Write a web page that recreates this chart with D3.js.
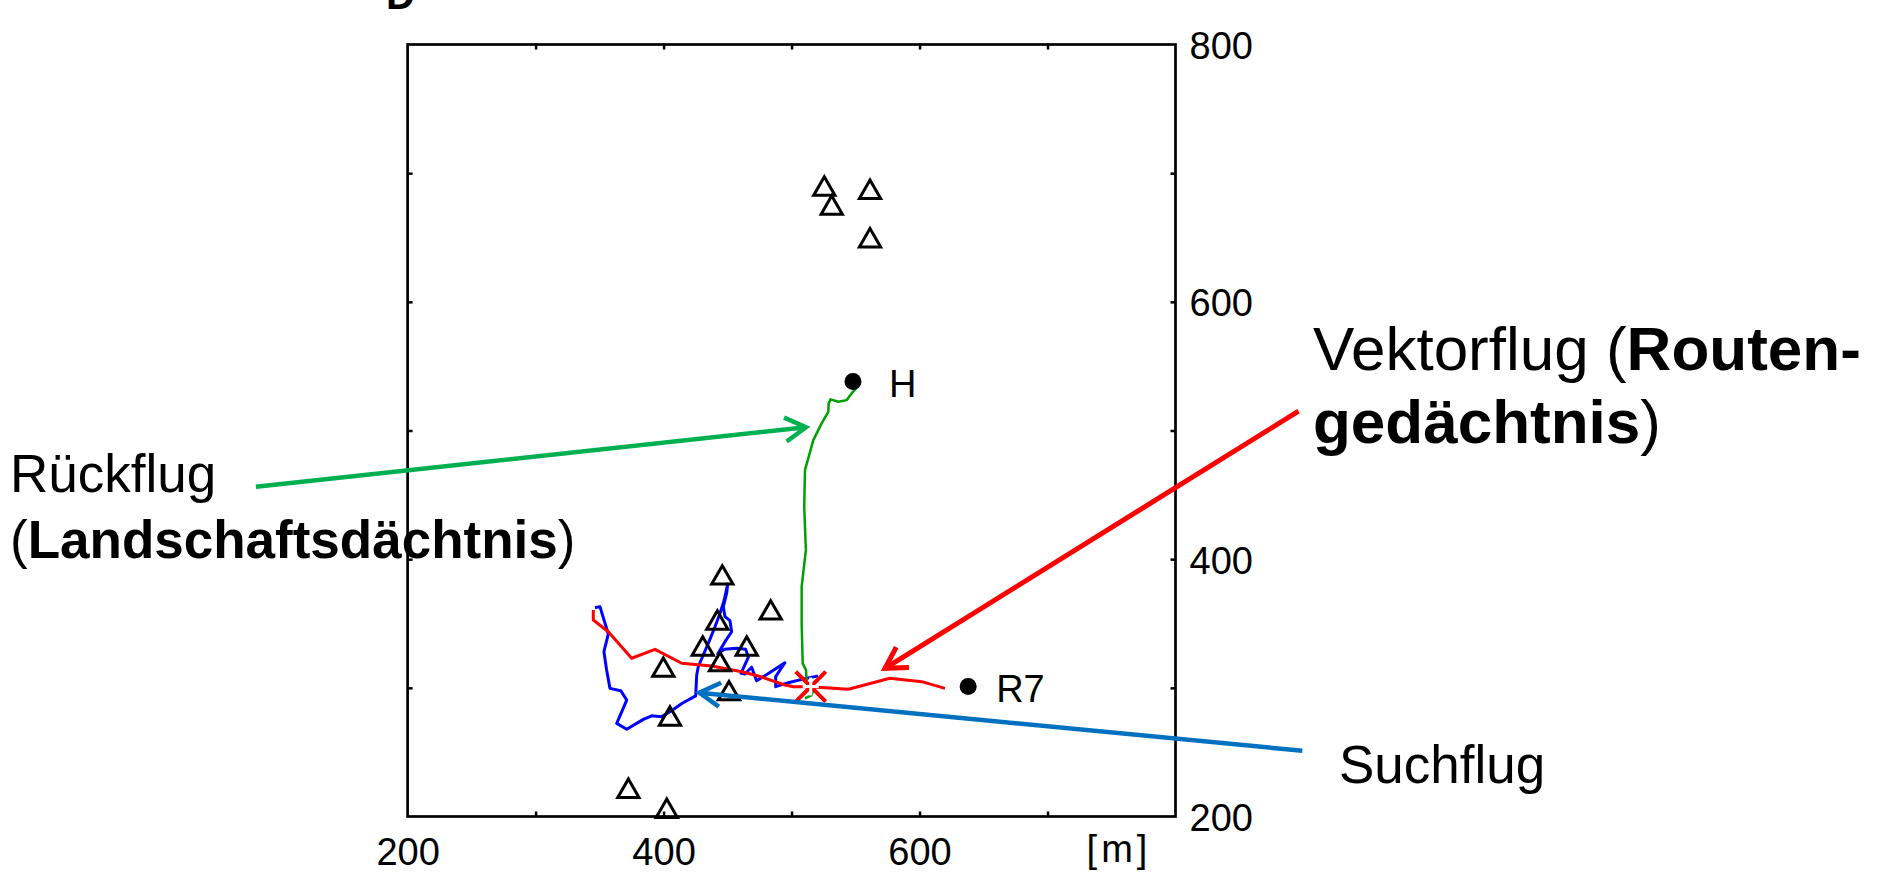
<!DOCTYPE html>
<html lang="de">
<head>
<meta charset="UTF-8">
<title>Suchflug, Vektorflug, Rückflug</title>
<script src="https://d3js.org/d3.v7.min.js"></script>
<style>
  body { margin: 0; background: #fff; }
  svg text { font-family: "Liberation Sans", Arial, sans-serif; fill: #000; }
</style>
</head>
<body>
<div id="chart"></div>
<script>
// all positions in metres [x, y]
var homePoint = [548, 538];
var releasePoint = [638, 301];
var releaseMark = [515, 301];

var landmarks = [
  [525.6, 690.0], [531.4, 675.2], [561.3, 687.5], [561.3, 649.8],
  [445.9, 387.7], [483.7, 360.5], [442.0, 352.7], [430.6, 332.5],
  [465.0, 332.5], [444.1, 320.3], [399.8, 316.0], [451.1, 297.8],
  [405.0, 278.1], [372.5, 221.9], [402.5, 206.4]
];

// Suchflug (blue)
var suchflug = [
  [520.6, 309.2], [518.3, 308.7], [507.9, 306.6], [497.4, 304.0], [487.6, 300.9],
  [487.6, 308.7], [494.8, 319.5], [481.3, 310.7], [472.7, 305.5], [468.8, 316.0],
  [463.6, 310.7], [460.5, 311.3], [466.2, 323.7], [464.2, 329.9], [457.1, 330.7],
  [447.4, 329.9], [442.3, 326.3], [448.0, 335.9], [453.2, 343.6], [451.9, 352.2],
  [448.0, 355.3], [446.7, 363.1], [449.3, 373.5], [450.1, 380.7], [447.4, 368.3],
  [444.1, 357.9], [440.2, 347.5], [435.5, 335.9], [431.0, 325.5], [427.1, 316.4],
  [425.9, 310.0], [425.1, 293.7], [414.6, 288.0], [405.0, 281.4], [398.5, 277.6],
  [390.7, 278.3], [384.2, 275.5], [371.2, 267.8], [363.4, 272.4], [371.2, 290.5],
  [366.5, 297.8], [358.1, 299.6], [355.5, 313.9], [353.4, 328.1], [356.8, 341.8],
  [350.3, 363.1], [346.4, 362.3]
];

// Vektorflug (red)
var vektorflug = [
  [345.1, 360.5], [345.1, 352.7], [356.8, 343.6], [375.1, 323.0], [393.3, 329.9],
  [414.2, 319.1], [437.6, 317.0], [461.1, 312.5], [474.0, 309.2], [494.9, 302.2],
  [501.4, 300.9], [514.4, 300.9], [544.4, 298.9], [576.9, 307.4], [601.7, 304.8],
  [619.9, 299.6]
];

// Rückflug (green)
var rueckflug = [
  [550.9, 533.2], [546.9, 528.8], [543.0, 523.6], [536.5, 522.3], [530.5, 524.2],
  [529.0, 521.1], [528.7, 514.5], [523.5, 505.5], [517.0, 492.5], [510.5, 469.2],
  [509.9, 440.7], [511.2, 407.1], [509.1, 389.0], [507.9, 378.6], [507.9, 350.1],
  [508.7, 319.0], [511.3, 313.8], [511.8, 303.5], [517.0, 298.3], [515.7, 294.4],
  [510.5, 291.8]
];

// annotation arrows [start, tip]
var arrowRueck = [[81.5, 456.3], [511.3, 502.5]];
var arrowVektor = [[896.1, 515.0], [573.0, 315.2]];
var arrowSuch = [[899.1, 251.1], [427.9, 296.2]];

var xTickLabels = [200, 400, 600];
var yTickLabels = [200, 400, 600, 800];
var innerTicks = [300, 400, 500, 600, 700];

var W = 1885, H = 872;

var svg = d3.select("#chart")
  .append("svg")
    .attr("width", W)
    .attr("height", H);

var x = d3.scaleLinear().domain([200, 800]).range([407.6, 1175.5]);
var y = d3.scaleLinear().domain([200, 800]).range([816.5, 44.5]);

// cut-off glyph at the very top (only its lower edge is visible)
svg.append("text")
  .attr("x", 386).attr("y", 9)
  .style("font-size", "40px").style("font-weight", "bold")
  .text("D");

// inward ticks on all four sides
function ticks(axis, tr) {
  var g = svg.append("g").attr("transform", tr)
    .call(axis.tickValues(innerTicks).tickSize(-5).tickFormat(""));
  g.select(".domain").remove();
  g.selectAll("line").attr("stroke", "#000").attr("stroke-width", 2.5);
}
ticks(d3.axisBottom(x), "translate(0," + y(200) + ")");
ticks(d3.axisTop(x), "translate(0," + y(800) + ")");
ticks(d3.axisLeft(y), "translate(" + x(200) + ",0)");
ticks(d3.axisRight(y), "translate(" + x(800) + ",0)");

// frame
svg.append("rect")
  .attr("x", x(200)).attr("y", y(800))
  .attr("width", x(800) - x(200)).attr("height", y(200) - y(800))
  .attr("fill", "none").attr("stroke", "#000").attr("stroke-width", 2.7);

// tick labels
var xl = svg.append("g").attr("transform", "translate(0," + y(200) + ")")
  .call(d3.axisBottom(x).tickValues(xTickLabels).tickSize(0).tickPadding(22));
xl.select(".domain").remove();
xl.selectAll("text").style("font-size", "38px").style("font-family", "Liberation Sans, Arial, sans-serif");

var yl = svg.append("g").attr("transform", "translate(" + x(800) + ",0)")
  .call(d3.axisRight(y).tickValues(yTickLabels).tickSize(0).tickPadding(14));
yl.select(".domain").remove();
yl.selectAll("text").style("font-size", "38px").style("font-family", "Liberation Sans, Arial, sans-serif")
  .attr("dy", "0.37em");

svg.append("text")
  .attr("x", 1119).attr("y", 862)
  .attr("text-anchor", "middle")
  .style("font-size", "38px").style("letter-spacing", "4px")
  .text("[m]");

// flight paths
var line = d3.line().x(function(d) { return x(d[0]); }).y(function(d) { return y(d[1]); });

svg.append("path").datum(suchflug)
  .attr("d", line).attr("fill", "none")
  .attr("stroke", "#0000ff").attr("stroke-width", 3).attr("stroke-linejoin", "round");

svg.append("path").datum(vektorflug)
  .attr("d", line).attr("fill", "none")
  .attr("stroke", "#ff0000").attr("stroke-width", 3).attr("stroke-linejoin", "round");

svg.append("path").datum(rueckflug)
  .attr("d", line).attr("fill", "none")
  .attr("stroke", "#00a000").attr("stroke-width", 2.5).attr("stroke-linejoin", "round");

// release mark: red x with white +
var rx = x(releaseMark[0]), ry = y(releaseMark[1]);
svg.append("path")
  .attr("d", "M" + (rx - 15) + "," + (ry - 15) + "L" + (rx + 15) + "," + (ry + 15) +
             "M" + (rx - 15) + "," + (ry + 15) + "L" + (rx + 15) + "," + (ry - 15))
  .attr("stroke", "#ff0000").attr("stroke-width", 4);
svg.append("path")
  .attr("d", "M" + (rx - 8) + "," + ry + "L" + (rx + 8) + "," + ry +
             "M" + rx + "," + (ry - 9) + "L" + rx + "," + (ry + 9))
  .attr("stroke", "#fff").attr("stroke-width", 3);

// landmarks
svg.append("g").selectAll("path")
  .data(landmarks)
  .enter()
  .append("path")
    .attr("d", d3.symbol().type(d3.symbolTriangle).size(195))
    .attr("transform", function(d) { return "translate(" + x(d[0]) + "," + (y(d[1]) + 3) + ")"; })
    .attr("fill", "none").attr("stroke", "#000").attr("stroke-width", 3);

// hive and release site
svg.append("g").selectAll("circle")
  .data([homePoint, releasePoint])
  .enter()
  .append("circle")
    .attr("cx", function(d) { return x(d[0]); })
    .attr("cy", function(d) { return y(d[1]); })
    .attr("r", 8.5).attr("fill", "#000");

svg.append("text")
  .attr("x", x(homePoint[0]) + 36).attr("y", y(homePoint[1]) + 15)
  .style("font-size", "38px").text("H");
svg.append("text")
  .attr("x", x(releasePoint[0]) + 28).attr("y", y(releasePoint[1]) + 15)
  .style("font-size", "38px").text("R7");

// annotation arrows with open heads
function arrow(a, color, width) {
  var x0 = x(a[0][0]), y0 = y(a[0][1]), x1 = x(a[1][0]), y1 = y(a[1][1]);
  var ang = Math.atan2(y0 - y1, x0 - x1), len = 24, spread = Math.PI / 6;
  var g = svg.append("g").attr("stroke", color).attr("stroke-width", width)
    .attr("fill", "none").attr("stroke-linecap", "butt");
  g.append("line").attr("x1", x0).attr("y1", y0).attr("x2", x1).attr("y2", y1);
  g.append("path")
    .attr("stroke-linejoin", "miter")
    .attr("d", "M" + (x1 + len * Math.cos(ang + spread)) + "," + (y1 + len * Math.sin(ang + spread)) +
               "L" + x1 + "," + y1 +
               "L" + (x1 + len * Math.cos(ang - spread)) + "," + (y1 + len * Math.sin(ang - spread)));
}
arrow(arrowRueck, "#00b050", 4.5);
arrow(arrowVektor, "#ff0000", 5);
arrow(arrowSuch, "#0070c0", 4.5);

// annotation texts
var t1 = svg.append("text").attr("x", 10).attr("y", 492).style("font-size", "53px");
t1.text("Rückflug");
var t2 = svg.append("text").attr("x", 10).attr("y", 558).style("font-size", "53px");
t2.append("tspan").text("(");
t2.append("tspan").style("font-weight", "bold").text("Landschaftsdächtnis");
t2.append("tspan").text(")");

var t3 = svg.append("text").attr("x", 1313).attr("y", 370).style("font-size", "62px");
t3.append("tspan").text("Vektorflug (");
t3.append("tspan").style("font-weight", "bold").text("Routen-");
var t4 = svg.append("text").attr("x", 1313).attr("y", 443).style("font-size", "62px");
t4.append("tspan").style("font-weight", "bold").text("gedächtnis");
t4.append("tspan").text(")");

svg.append("text").attr("x", 1339).attr("y", 783).style("font-size", "53px").text("Suchflug");
</script>
</body>
</html>
